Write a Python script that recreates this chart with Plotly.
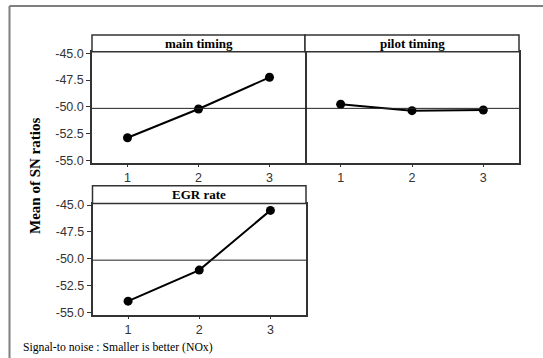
import numpy as np
import plotly.graph_objects as go

# ---- data ----
levels = [1, 2, 3]
main_timing = [-52.86, -50.19, -47.24]
pilot_timing = [-49.75, -50.34, -50.28]
egr_rate = [-53.94, -51.05, -45.50]
panel_titles = ["main timing", "pilot timing", "EGR rate"]
y_tickvals = [-55.0, -52.5, -50.0, -47.5, -45.0]
y_ticktext = ["-55.0", "-52.5", "-50.0", "-47.5", "-45.0"]
x_ticktext = ["1", "2", "3"]
grand_mean = float(np.mean(main_timing + pilot_timing + egr_rate))

W, H = 543, 358
def px(x):
    return x / W
def py(y):
    return 1 - y / H

fig = go.Figure()

series = [main_timing, pilot_timing, egr_rate]
# panel geometry in pixels: (left, right, strip_top, data_top, data_bottom)
panels = [
    (92, 305, 35, 51.7, 162.7),
    (305, 519, 35, 51.7, 162.7),
    (92.5, 306, 185.7, 203.5, 314.5),
]

axis_line = "#333333"
tick_font = dict(family="Liberation Sans, Arial, sans-serif", size=12.5, color="#333333")

for i, (vals, (l, r, st, dt, db)) in enumerate(zip(series, panels)):
    n = "" if i == 0 else str(i + 1)
    is_pilot = (i == 1)
    fig.add_trace(go.Scatter(
        x=levels, y=vals, mode="lines+markers",
        line=dict(color="black", width=2),
        marker=dict(color="black", size=9),
        xaxis="x" + n, yaxis="y" + n, showlegend=False,
    ))
    yax = dict(
        domain=[py(db), py(dt)], range=[-55.18, -44.86], anchor="x" + n,
        tickvals=y_tickvals, ticktext=y_ticktext,
        showline=True, linecolor=axis_line, linewidth=1.5,
        showgrid=False, zeroline=False, tickfont=tick_font,
        fixedrange=True, automargin=False,
    )
    if is_pilot:
        yax.update(side="right", mirror=False, showticklabels=False, ticks="")
    else:
        yax.update(mirror=True, ticks="outside", ticklen=4, tickcolor=axis_line)
    fig.update_layout(**{
        "xaxis" + n: dict(
            domain=[px(l), px(r)], range=[0.5, 3.5], anchor="y" + n,
            tickvals=levels, ticktext=x_ticktext, ticks="outside", ticklen=3,
            tickcolor=axis_line, showline=True, mirror=True, linecolor=axis_line,
            linewidth=1.5, showgrid=False, zeroline=False, tickfont=tick_font,
            fixedrange=True, automargin=False,
        ),
        "yaxis" + n: yax,
    })
    # grand mean reference line
    fig.add_shape(type="line", xref="x" + n + " domain", yref="y" + n,
                  x0=0, x1=1, y0=grand_mean, y1=grand_mean,
                  line=dict(color="#222222", width=1))
    # strip header
    fig.add_shape(type="rect", xref="paper", yref="paper",
                  x0=px(l), x1=px(r), y0=py(dt), y1=py(st),
                  line=dict(color=axis_line, width=1.5), fillcolor="white")
    fig.add_annotation(text="<b>" + panel_titles[i] + "</b>", xref="paper", yref="paper",
                       x=px((l + r) / 2), y=py((st + dt) / 2), showarrow=False,
                       font=dict(family="Liberation Serif, Times New Roman, serif", size=13, color="black"),
                       xanchor="center", yanchor="middle")

# outer frame (top and left edges)
fig.add_shape(type="line", xref="paper", yref="paper", x0=px(9.5), x1=1, y0=py(6), y1=py(6),
              line=dict(color="#7f7f7f", width=2))
fig.add_shape(type="line", xref="paper", yref="paper", x0=px(9.5), x1=px(9.5), y0=0, y1=py(6),
              line=dict(color="#7f7f7f", width=2))

# y-axis title
fig.add_annotation(text="<b>Mean of SN ratios</b>", xref="paper", yref="paper",
                   x=px(35), y=py(176), showarrow=False, textangle=-90,
                   font=dict(family="Liberation Serif, Times New Roman, serif", size=15, color="black"),
                   xanchor="center", yanchor="middle")

# footnote
fig.add_annotation(text="Signal-to noise : Smaller is better (NOx)", xref="paper", yref="paper",
                   x=px(21), y=py(347), showarrow=False, xanchor="left", yanchor="middle",
                   font=dict(family="Liberation Serif, Times New Roman, serif", size=11.7, color="black"))

fig.update_layout(width=W, height=H, margin=dict(l=0, r=0, t=0, b=0),
                  paper_bgcolor="white", plot_bgcolor="white")

fig.write_html("out.html", config={"displayModeBar": False},
               post_script="document.body.style.margin='0';document.body.style.overflow='hidden';")
